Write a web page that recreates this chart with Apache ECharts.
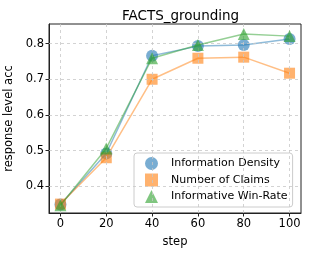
<!DOCTYPE html>
<html><head><meta charset="utf-8">
<script src="https://cdn.jsdelivr.net/npm/echarts@6/dist/echarts.min.js"></script>
<style>html,body{margin:0;padding:0;background:#fff}#c{width:309px;height:255px}</style>
</head><body><div id="c"></div>
<script>
const steps = [0, 20, 40, 60, 80, 100];
const infoDensity = [0.349, 0.492, 0.766, 0.793, 0.796, 0.813];
const numClaims = [0.350, 0.480, 0.700, 0.759, 0.762, 0.717];
const winRate = [0.347, 0.506, 0.759, 0.796, 0.827, 0.821];
const xTicks = [0, 20, 40, 60, 80, 100];
const yTicks = [0.4, 0.5, 0.6, 0.7, 0.8];
const names = ['Information Density', 'Number of Claims', 'Informative Win-Rate'];
const colors = ['#1f77b4', '#ff7f0e', '#2ca02c'];
const symbols = ['circle', 'rect', 'triangle'];
const sizes = [12, 11, 12];
const font = 'DejaVu Sans';

const chart = echarts.init(document.getElementById('c'));
const mk = (vals, i) => ({
  name: names[i], type: 'line', data: steps.map((s, k) => [s, vals[k]]),
  symbol: symbols[i], symbolSize: sizes[i], showSymbol: true,
  lineStyle: { color: colors[i], width: 1.5, opacity: 0.5 },
  itemStyle: { color: colors[i], opacity: 0.6 },
  z: 3 + i, animation: false
});
const gridLineStyle = { color: '#c8c8c8', type: [3, 3], width: 0.8 };
const gridSeries = {
  name: '_grid', type: 'line', data: [], silent: true, z: 1,
  markLine: {
    silent: true, symbol: ['none', 'none'], label: { show: false }, animation: false,
    lineStyle: gridLineStyle,
    data: xTicks.map(v => ({ xAxis: v })).concat(yTicks.map(v => ({ yAxis: v })))
  }
};
chart.setOption({
  animation: false,
  title: { text: 'FACTS_grounding', left: 117, top: 4,
    textStyle: { fontFamily: font, fontSize: 13.5, fontWeight: 'normal', color: '#000' } },
  grid: { left: 49, right: 8, top: 24, bottom: 42, outerBoundsMode: 'none', containLabel: false,
    show: true, borderColor: '#222', borderWidth: 1 },
  legend: {
    orient: 'vertical', left: 134, top: 153,
    data: names.map((n, i) => ({ name: n, icon: symbols[i], itemStyle: { color: colors[i], opacity: 0.6 } })),
    itemWidth: 13, itemHeight: 13, itemGap: 3.5,
    padding: [4, 5, 4, 11],
    backgroundColor: 'rgba(255,255,255,0.8)', borderColor: '#ccc', borderWidth: 1, borderRadius: 3,
    textStyle: { fontFamily: font, fontSize: 11, color: '#000', padding: [0, 0, 0, 8] }
  },
  xAxis: {
    type: 'value', min: -5, max: 105,
    name: 'step', nameLocation: 'middle', nameGap: 23,
    nameTextStyle: { fontFamily: font, fontSize: 11.5, color: '#000' },
    axisLine: { onZero: false, lineStyle: { color: '#222' } },
    axisTick: { customValues: xTicks, length: 3.5, lineStyle: { color: '#222' } },
    axisLabel: { customValues: xTicks, fontFamily: font, fontSize: 11.5, color: '#000', margin: 5 },
    splitLine: { show: false }
  },
  yAxis: {
    type: 'value', min: 0.325, max: 0.855,
    name: 'response level acc', nameLocation: 'middle', nameGap: 31, nameRotate: 90,
    nameTextStyle: { fontFamily: font, fontSize: 11.5, color: '#000' },
    axisLine: { show: true, onZero: false, lineStyle: { color: '#222' } },
    axisTick: { show: true, customValues: yTicks, length: 3.5, lineStyle: { color: '#222' } },
    axisLabel: { customValues: yTicks, fontFamily: font, fontSize: 11.5, color: '#000', margin: 5,
      formatter: v => v.toFixed(1) },
    splitLine: { show: false }
  },
  series: [gridSeries, mk(infoDensity, 0), mk(numClaims, 1), mk(winRate, 2)]
});
</script></body></html>
